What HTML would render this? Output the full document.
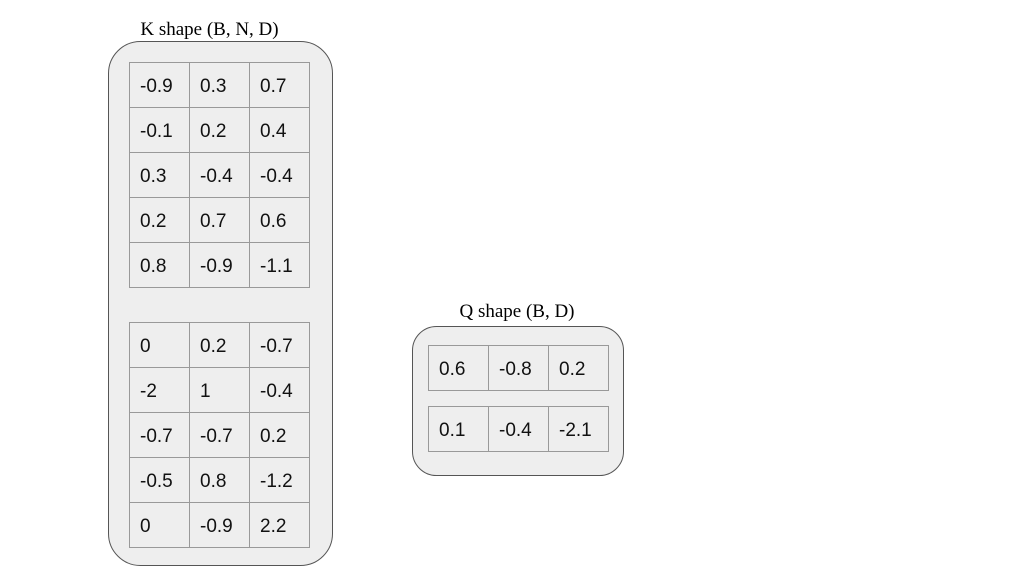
<!DOCTYPE html>
<html><head><meta charset="utf-8"><style>
html,body{margin:0;padding:0;background:#fff;}
svg{display:block;}
</style></head><body>
<svg id="s" width="1024" height="576" viewBox="0 0 1024 576" xmlns="http://www.w3.org/2000/svg">
<text x="209.5" y="35" font-family="Liberation Serif, serif" font-size="19" text-anchor="middle" fill="#000">K shape (B, N, D)</text>
<rect x="108.5" y="41.5" width="224" height="524" rx="32" fill="#eeeeee" stroke="#555" stroke-width="1"/>
<text x="517" y="317" font-family="Liberation Serif, serif" font-size="19" text-anchor="middle" fill="#000">Q shape (B, D)</text>
<rect x="412.5" y="326.5" width="211" height="149" rx="24" fill="#eeeeee" stroke="#555" stroke-width="1"/>
<g id="cells"></g>
</svg>
<script>
const kValues = [
  [[-0.9,0.3,0.7],[-0.1,0.2,0.4],[0.3,-0.4,-0.4],[0.2,0.7,0.6],[0.8,-0.9,-1.1]],
  [[0,0.2,-0.7],[-2,1,-0.4],[-0.7,-0.7,0.2],[-0.5,0.8,-1.2],[0,-0.9,2.2]]
];
const qValues = [[0.6,-0.8,0.2],[0.1,-0.4,-2.1]];
const NS='http://www.w3.org/2000/svg';
const g=document.getElementById('cells');
function cell(x,y,v,name){
  const r=document.createElementNS(NS,'rect');
  r.setAttribute('x',x+0.5);r.setAttribute('y',y+0.5);r.setAttribute('width',60);r.setAttribute('height',45);
  r.setAttribute('fill','#eeeeee');r.setAttribute('stroke','#999');r.setAttribute('stroke-width','1');
  
  
  g.appendChild(r);
  const t=document.createElementNS(NS,'text');
  t.setAttribute('x',x+11);t.setAttribute('y',y+30);
  t.setAttribute('font-family','Liberation Sans, sans-serif');t.setAttribute('font-size','19');t.setAttribute('fill','#111');
  t.textContent=String(v);
  
  
  g.appendChild(t);
}
kValues.forEach((b,bi)=>{
  const y0=bi===0?62:322;
  b.forEach((row,ri)=>row.forEach((v,ci)=>cell(129+ci*60,y0+ri*45,v,'k-cell-b'+bi+'-n'+ri+'-d'+ci)));
});
qValues.forEach((row,ri)=>row.forEach((v,ci)=>cell(428+ci*60,345+ri*61,v,'q-cell-b'+ri+'-d'+ci)));
</script>
</body></html>
